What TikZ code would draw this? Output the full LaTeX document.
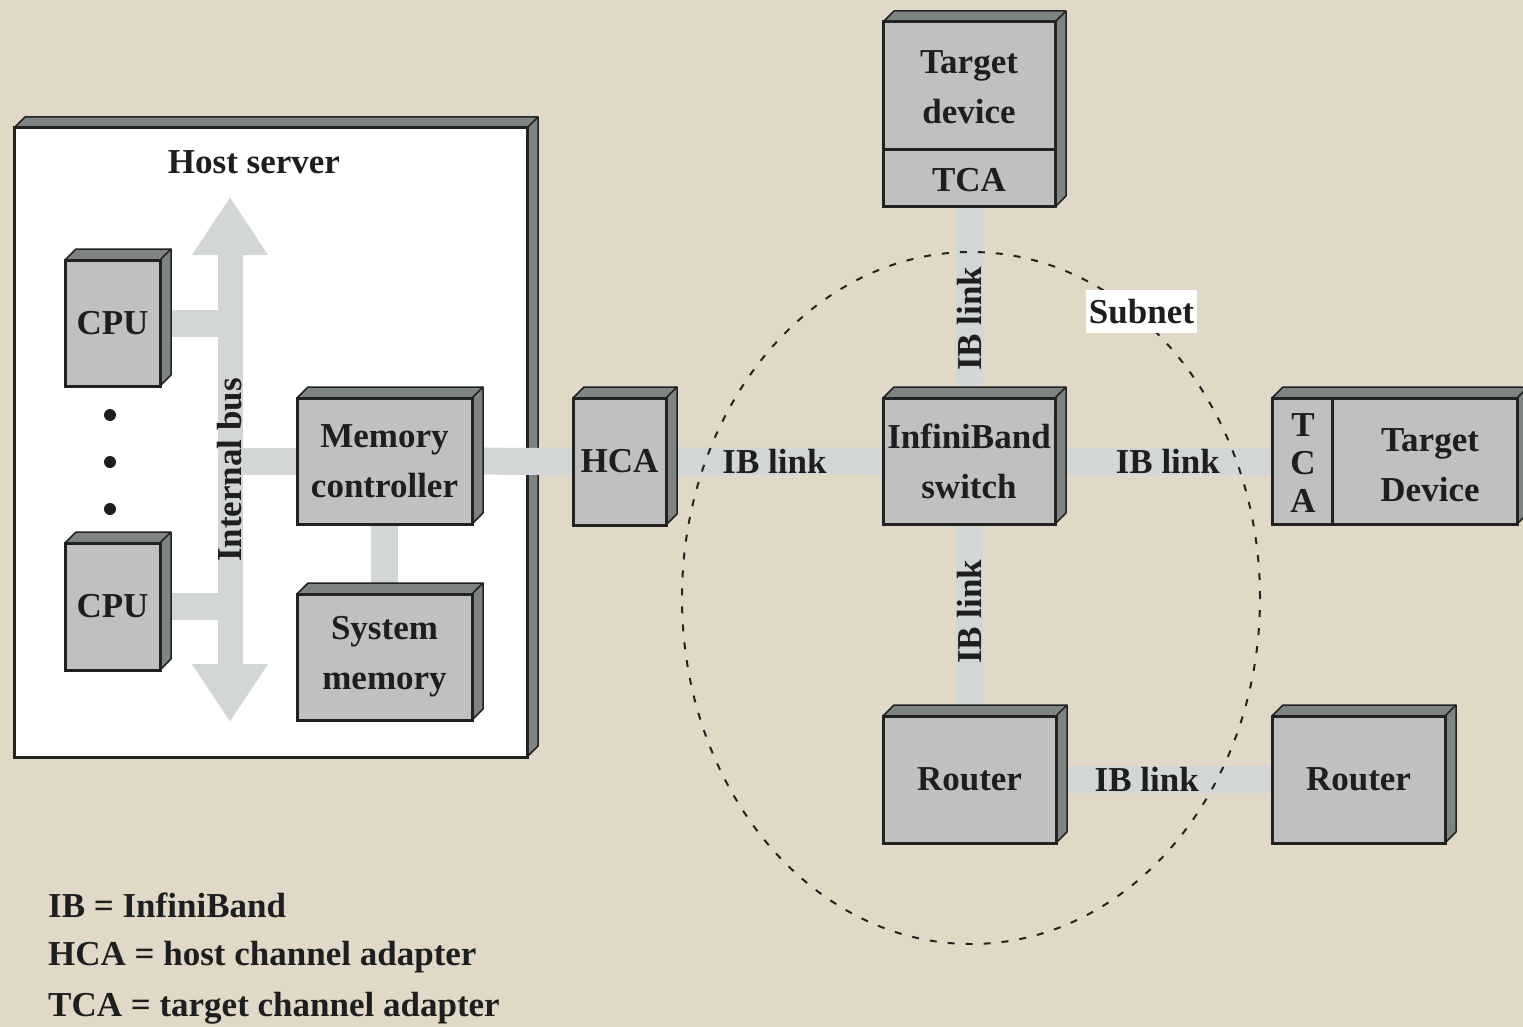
\documentclass[tikz,border=0pt]{standalone}
\usepackage{fontspec}
\setmainfont{Liberation Serif}
\usepackage{xcolor}
\usepackage{tikz}
\usetikzlibrary{shapes,shapes.geometric,arrows.meta}
\pgfdeclarelayer{back}
\pgfdeclarelayer{links}
\pgfsetlayers{back,links,main}

\definecolor{bgcol}{RGB}{226,216,199}
\definecolor{boxgray}{RGB}{192,192,192}
\definecolor{facecol}{RGB}{126,132,130}
\definecolor{edge}{RGB}{34,34,34}
\definecolor{barcol}{RGB}{211,214,214}
\definecolor{ink}{RGB}{30,30,30}

\begin{document}
\begin{tikzpicture}[x=1pt, y=-1pt,
	lbl/.style={font=\bfseries\fontsize{35}{50}\selectfont, text=ink, inner sep=0, align=center},
	face/.style={fill=facecol, draw=edge, line width=1.5pt, line join=round},
	block/.style={lbl, draw=edge, line width=3pt, fill=boxgray, outer sep=0,
		append after command={\pgfextra{\let\blk\tikzlastnode
			\begin{pgfinterruptpath}
			\filldraw[face] (\blk.north west) -- ([shift={(11pt,11pt)}]\blk.north west) -- ([shift={(11pt,11pt)}]\blk.north east) -- ([shift={(11pt,11pt)}]\blk.south east) -- (\blk.south east) -- (\blk.north east) -- cycle;
			\draw[face] (\blk.north east) -- ++(11pt,11pt);
			\end{pgfinterruptpath}}}},
	hostbox/.style={block, fill=white},
	divider/.style={draw=edge, line width=3pt},
	bar/.style={draw=barcol, line width=27pt},
	bus/.style={draw=barcol, line width=25pt, {Triangle[width=72pt,length=58pt]}-{Triangle[width=72pt,length=58pt]}},
	subnet/.style={ellipse, draw=edge, dash pattern=on 7pt off 11pt, line width=2pt, minimum width=578pt, minimum height=692pt, inner sep=0}
]
\useasboundingbox (0,0) rectangle (1523,1027);

\begin{pgfonlayer}{back}
\fill[bgcol] (0,0) rectangle (1523,1027);
\node[hostbox, minimum width=513pt, minimum height=629pt] (host) at (270.5,442.5) {};
\end{pgfonlayer}

% host side
\node[lbl] (hostlbl) at (254,162) {Host server};
\node[block, minimum width=95pt, minimum height=126pt] (cpuA) at (112.5,323) {CPU};
\node[block, minimum width=95pt, minimum height=127pt] (cpuB) at (112.5,606.5) {CPU};
\foreach \y in {415,462,509}
	\fill[ink] (110,\y) circle (6pt);
\node[block, minimum width=175pt, minimum height=126pt] (memctl) at (384.5,461) {Memory\\controller};
\node[block, minimum width=175pt, minimum height=126pt] (sysmem) at (384.5,657) {System\\memory};
\coordinate (bustop) at (230,197);
\coordinate (busbot) at (230,722);

% fabric side
\node[block, minimum width=93pt, minimum height=127pt] (hca) at (619.5,461.5) {HCA};
\node[block, minimum width=172pt, minimum height=126pt] (swi) at (969,461) {InfiniBand\\switch};
\node[block, minimum width=172pt, minimum height=185pt] (tdevA) at (969,114.5) {};
\coordinate (tsplit) at (0,150);
\draw[divider] (tdevA.west |- tsplit) -- (tdevA.east |- tsplit);
\node[lbl] (tdevAtxt) at (969,87) {Target\\device};
\node[lbl] (tcaA) at (969,180) {TCA};
\node[block, minimum width=245pt, minimum height=126pt] (tdevB) at (1394.5,461) {};
\coordinate (tsplitB) at (1332,0);
\draw[divider] (tdevB.north -| tsplitB) -- (tdevB.south -| tsplitB);
\node[lbl, font=\bfseries\fontsize{35}{38}\selectfont] (tcaB) at (1303,463) {T\\C\\A};
\node[lbl] (tdevBtxt) at (1430,465) {Target\\Device};
\node[block, minimum width=173pt, minimum height=127pt] (rtrA) at (969.5,779.5) {Router};
\node[block, minimum width=173pt, minimum height=127pt] (rtrB) at (1358.5,779.5) {Router};

\begin{pgfonlayer}{links}
\draw[bar] (cpuA) -- (cpuA -| bustop);
\draw[bar] (cpuB) -- (cpuB -| bustop);
\draw[bar] (memctl) -- (memctl -| bustop);
\draw[bar] (memctl) -- (sysmem);
\draw[bar] (memctl) -- (hca);
\draw[bus] (bustop) -- (busbot) node[lbl, pos=0.52, rotate=90] {Internal bus};
\draw[bar] (hca) -- (swi) node[lbl, midway] {IB link};
\draw[bar] (swi) -- (tdevB) node[lbl, pos=0.52] {IB link};
\draw[bar] (tdevA) -- (swi) node[lbl, pos=0.586, rotate=90] {IB link};
\draw[bar] (swi) -- (rtrA) node[lbl, pos=0.458, rotate=90] {IB link};
\draw[bar] (rtrA) -- (rtrB) node[lbl, pos=0.42] {IB link};
\end{pgfonlayer}

\node[subnet] (sub) at (971,598) {};
\node[lbl, fill=white, minimum width=111pt, minimum height=43pt] (sublbl) at (1141.5,311.5) {Subnet};

% key
\node[lbl, anchor=west] (keyIB) at (48,905) {IB = InfiniBand};
\node[lbl, anchor=west] (keyHCA) at (48,957) {HCA = host channel adapter};
\node[lbl, anchor=west] (keyTCA) at (48,1008) {TCA = target channel adapter};
\end{tikzpicture}
\end{document}
